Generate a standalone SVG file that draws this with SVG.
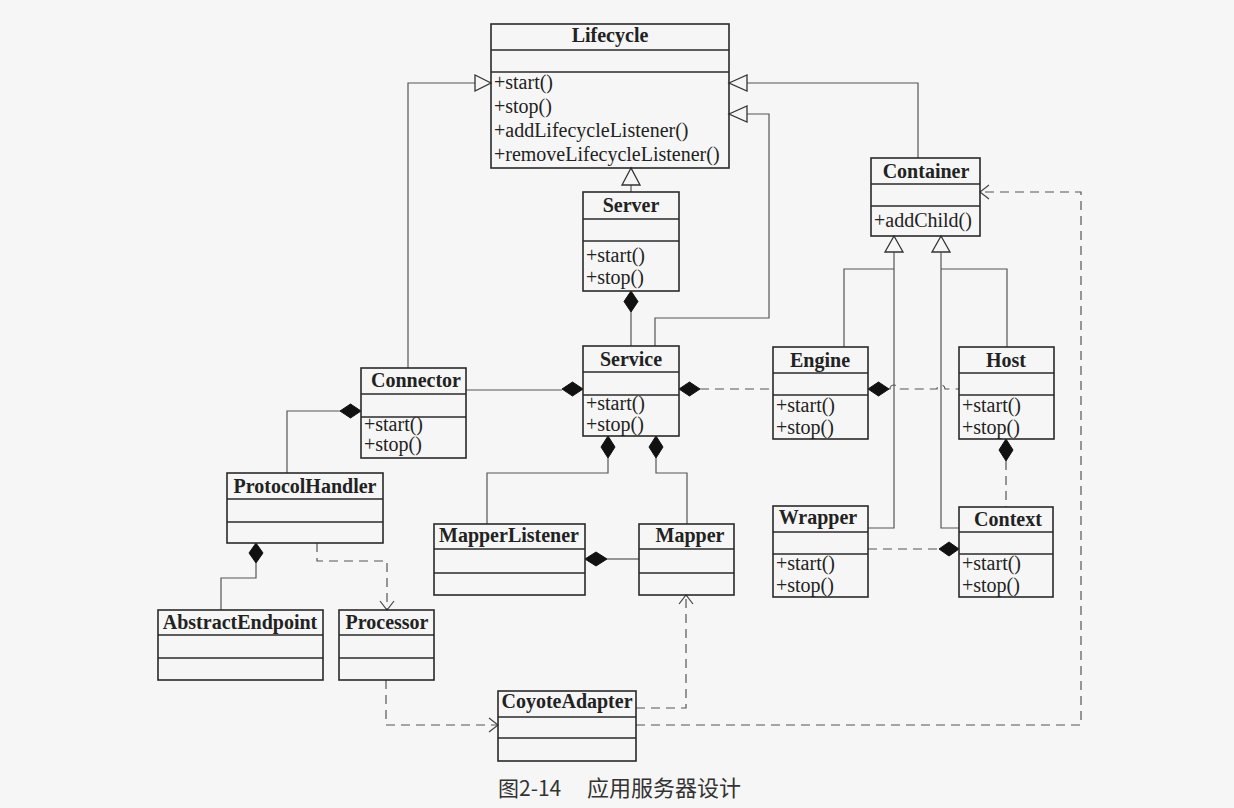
<svg xmlns="http://www.w3.org/2000/svg" width="1234" height="808" viewBox="0 0 1234 808">
<style>
.bg{fill:#f6f6f6}
.box{fill:none;stroke:#2a2a2a;stroke-width:1.6}
.sep{stroke:#2a2a2a;stroke-width:1.4}
.t{font-family:"Liberation Serif","Times New Roman",serif;font-weight:bold;font-size:20px;fill:#222;text-anchor:middle}
.m{font-family:"Liberation Serif","Times New Roman",serif;font-size:20px;fill:#222}
.ln{fill:none;stroke:#555;stroke-width:1.2}
.ds{fill:none;stroke:#555;stroke-width:1.2;stroke-dasharray:9 6}
.tri{fill:#f6f6f6;stroke:#333;stroke-width:1.3}
.dia{fill:#111;stroke:#111;stroke-width:1}
.arr{fill:none;stroke:#444;stroke-width:1.2}
.cap{font-family:"Noto Sans CJK SC",sans-serif;font-size:21px;fill:#333}
</style>
<rect class="bg" x="0" y="0" width="1234" height="808"/>

<g id="connectors">
  <!-- Connector -> Lifecycle -->
  <path class="ln" d="M408 368 V83 H475"/>
  <polygon class="tri" points="491,83 475,75 475,91"/>
  <!-- Container -> Lifecycle -->
  <path class="ln" d="M918 158 V83 H747"/>
  <polygon class="tri" points="729,83 747,75 747,91"/>
  <!-- Service -> Lifecycle -->
  <path class="ln" d="M655 346 V318 H769 V114 H747"/>
  <polygon class="tri" points="729,114 747,106 747,122"/>
  <!-- Server -> Lifecycle -->
  <path class="ln" d="M631 185 V192"/>
  <polygon class="tri" points="631,168 622,185 640,185"/>
  <!-- Server <>- Service -->
  <path class="ln" d="M631 312 V346"/>
  <polygon class="dia" points="631,291 638,301.5 631,312 624,301.5"/>
  <!-- Service <>- Connector -->
  <path class="ln" d="M466 390 H562"/>
  <polygon class="dia" points="583,389 572.5,382 562,389 572.5,396"/>
  <!-- Connector <>- ProtocolHandler -->
  <path class="ln" d="M340 411 H287 V473"/>
  <polygon class="dia" points="361,411 350.5,404 340,411 350.5,418"/>
  <!-- ProtocolHandler <>- AbstractEndpoint -->
  <path class="ln" d="M256 563 V578 H221 V610"/>
  <polygon class="dia" points="256,543 263,553 256,563 249,553"/>
  <!-- ProtocolHandler ..> Processor -->
  <path class="ds" d="M317 543 V561 H387 V609"/>
  <path class="arr" d="M380 601 L387 610 L394 601"/>
  <!-- Processor ..> CoyoteAdapter -->
  <path class="ds" d="M386 680 V725 H497"/>
  <path class="arr" d="M489 718 L498 725 L489 732"/>
  <!-- CoyoteAdapter ..> Mapper -->
  <path class="ds" d="M636 708 H686 V596"/>
  <path class="arr" d="M679 604 L686 595 L693 604"/>
  <!-- CoyoteAdapter ..> Container -->
  <path class="ds" d="M636 725 H1081 V192 H981"/>
  <path class="arr" d="M989 185 L980 192 L989 199"/>
  <!-- Service <>- MapperListener -->
  <path class="ln" d="M608 458 V473 H487 V524"/>
  <polygon class="dia" points="608,436 615,447 608,458 601,447"/>
  <!-- Service <>- Mapper -->
  <path class="ln" d="M656 458 V473 H687 V524"/>
  <polygon class="dia" points="656,436 663,447 656,458 649,447"/>
  <!-- MapperListener <>- Mapper -->
  <path class="ln" d="M607 559 H639"/>
  <polygon class="dia" points="585,559 596,552 607,559 596,566"/>
  <!-- Service <>.. Engine -->
  <path class="ds" d="M700 389 H773"/>
  <polygon class="dia" points="679,389 689.5,382 700,389 689.5,396"/>
  <!-- Engine <>.. Host -->
  <path class="ds" d="M889 389 H890 a4 4 0 0 1 8 0 H937 a4 4 0 0 1 8 0 H959"/>
  <polygon class="dia" points="868,389 878.5,382 889,389 878.5,396"/>
  <!-- Container generalizations -->
  <polygon class="tri" points="894,236 885,252 903,252"/>
  <polygon class="tri" points="941,236 932,252 950,252"/>
  <path class="ln" d="M894 252 V528 H868"/>
  <path class="ln" d="M894 269 H844 V347"/>
  <path class="ln" d="M941 252 V528 H959"/>
  <path class="ln" d="M941 269 H1007 V347"/>
  <!-- Host <>.. Context -->
  <path class="ds" d="M1006 461 V507"/>
  <polygon class="dia" points="1006,439 1013,450 1006,461 999,450"/>
  <!-- Context <>.. Wrapper -->
  <path class="ds" d="M868 549 H939"/>
  <polygon class="dia" points="959,549 949,542 939,549 949,556"/>
</g>

<g id="Lifecycle">
  <rect class="box" x="491" y="24" width="238" height="144"/>
  <line class="sep" x1="491" y1="50" x2="729" y2="50"/>
  <line class="sep" x1="491" y1="72" x2="729" y2="72"/>
  <text class="t" x="610" y="42">Lifecycle</text>
  <text class="m" x="494" y="89">+start()</text>
  <text class="m" x="494" y="113">+stop()</text>
  <text class="m" x="494" y="137">+addLifecycleListener()</text>
  <text class="m" x="494" y="161">+removeLifecycleListener()</text>
</g>

<g id="Server">
  <rect class="box" x="583" y="192" width="96" height="99"/>
  <line class="sep" x1="583" y1="219" x2="679" y2="219"/>
  <line class="sep" x1="583" y1="241" x2="679" y2="241"/>
  <text class="t" x="631" y="212">Server</text>
  <text class="m" x="586" y="262">+start()</text>
  <text class="m" x="586" y="284">+stop()</text>
</g>

<g id="Container">
  <rect class="box" x="871" y="158" width="109" height="78"/>
  <line class="sep" x1="871" y1="184" x2="980" y2="184"/>
  <line class="sep" x1="871" y1="206" x2="980" y2="206"/>
  <text class="t" x="926" y="178">Container</text>
  <text class="m" x="874" y="227">+addChild()</text>
</g>

<g id="Service">
  <rect class="box" x="583" y="346" width="96" height="90"/>
  <line class="sep" x1="583" y1="372" x2="679" y2="372"/>
  <line class="sep" x1="583" y1="395" x2="679" y2="395"/>
  <text class="t" x="631" y="366">Service</text>
  <text class="m" x="586" y="410">+start()</text>
  <text class="m" x="586" y="431">+stop()</text>
</g>

<g id="Connector">
  <rect class="box" x="361" y="368" width="105" height="90"/>
  <line class="sep" x1="361" y1="394" x2="466" y2="394"/>
  <line class="sep" x1="361" y1="417" x2="466" y2="417"/>
  <text class="t" x="416" y="387">Connector</text>
  <text class="m" x="364" y="431">+start()</text>
  <text class="m" x="364" y="451">+stop()</text>
</g>

<g id="Engine">
  <rect class="box" x="773" y="347" width="95" height="92"/>
  <line class="sep" x1="773" y1="373" x2="868" y2="373"/>
  <line class="sep" x1="773" y1="395" x2="868" y2="395"/>
  <text class="t" x="820" y="367">Engine</text>
  <text class="m" x="776" y="412">+start()</text>
  <text class="m" x="776" y="434">+stop()</text>
</g>

<g id="Host">
  <rect class="box" x="959" y="347" width="95" height="92"/>
  <line class="sep" x1="959" y1="373" x2="1054" y2="373"/>
  <line class="sep" x1="959" y1="395" x2="1054" y2="395"/>
  <text class="t" x="1006" y="367">Host</text>
  <text class="m" x="962" y="412">+start()</text>
  <text class="m" x="962" y="434">+stop()</text>
</g>

<g id="ProtocolHandler">
  <rect class="box" x="227" y="473" width="156" height="70"/>
  <line class="sep" x1="227" y1="499" x2="383" y2="499"/>
  <line class="sep" x1="227" y1="522" x2="383" y2="522"/>
  <text class="t" x="305" y="493">ProtocolHandler</text>
</g>

<g id="MapperListener">
  <rect class="box" x="434" y="524" width="151" height="71"/>
  <line class="sep" x1="434" y1="549" x2="585" y2="549"/>
  <line class="sep" x1="434" y1="573" x2="585" y2="573"/>
  <text class="t" x="509" y="542">MapperListener</text>
</g>

<g id="Mapper">
  <rect class="box" x="639" y="524" width="95" height="71"/>
  <line class="sep" x1="639" y1="549" x2="734" y2="549"/>
  <line class="sep" x1="639" y1="573" x2="734" y2="573"/>
  <text class="t" x="690" y="542">Mapper</text>
</g>

<g id="Wrapper">
  <rect class="box" x="773" y="506" width="95" height="91"/>
  <line class="sep" x1="773" y1="532" x2="868" y2="532"/>
  <line class="sep" x1="773" y1="554" x2="868" y2="554"/>
  <text class="t" x="818" y="524">Wrapper</text>
  <text class="m" x="776" y="570">+start()</text>
  <text class="m" x="776" y="592">+stop()</text>
</g>

<g id="Context">
  <rect class="box" x="959" y="507" width="94" height="90"/>
  <line class="sep" x1="959" y1="532" x2="1053" y2="532"/>
  <line class="sep" x1="959" y1="554" x2="1053" y2="554"/>
  <text class="t" x="1008" y="526">Context</text>
  <text class="m" x="962" y="570">+start()</text>
  <text class="m" x="962" y="592">+stop()</text>
</g>

<g id="AbstractEndpoint">
  <rect class="box" x="158" y="610" width="165" height="70"/>
  <line class="sep" x1="158" y1="635" x2="323" y2="635"/>
  <line class="sep" x1="158" y1="658" x2="323" y2="658"/>
  <text class="t" x="240" y="629">AbstractEndpoint</text>
</g>

<g id="Processor">
  <rect class="box" x="339" y="610" width="95" height="70"/>
  <line class="sep" x1="339" y1="635" x2="434" y2="635"/>
  <line class="sep" x1="339" y1="658" x2="434" y2="658"/>
  <text class="t" x="387" y="629">Processor</text>
</g>

<g id="CoyoteAdapter">
  <rect class="box" x="498" y="691" width="138" height="70"/>
  <line class="sep" x1="498" y1="717" x2="636" y2="717"/>
  <line class="sep" x1="498" y1="738" x2="636" y2="738"/>
  <text class="t" x="567" y="708">CoyoteAdapter</text>
</g>

<g id="caption">
  <text class="cap" x="498" y="796">图2-14</text>
  <text class="cap" x="587" y="796" style="font-size:22px">应用服务器设计</text>
</g>
</svg>
